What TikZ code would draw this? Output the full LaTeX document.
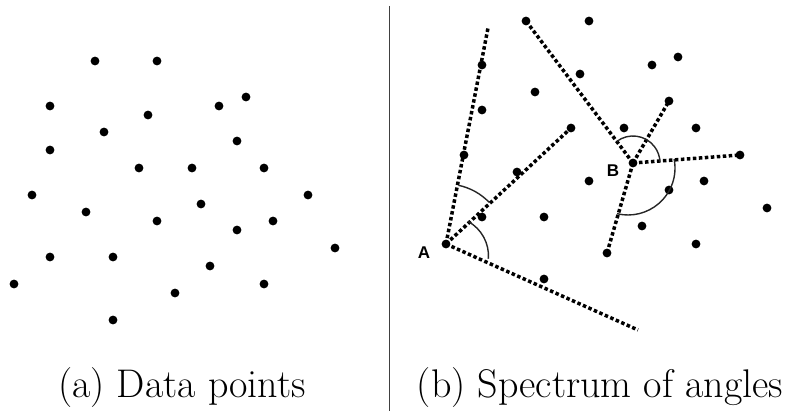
\documentclass[tikz,border=0pt]{standalone}
\usepackage{fontspec}
\usetikzlibrary{calc}
\newfontfamily\lblfont{Liberation Sans}
\tikzset{
  pt/.style={circle,fill=black,inner sep=0pt,minimum size=8.8pt},
  dotline/.style={line width=3.5pt,dash pattern=on 3.5pt off 2.5pt},
  anglearc/.style={line width=1.4pt,draw=black!85},
  lbl/.style={font=\lblfont\bfseries\fontsize{17}{19}\selectfont,inner sep=0pt},
  captext/.style={font=\fontsize{40}{44}\selectfont,inner sep=0pt,anchor=base},
}
\begin{document}
\begin{tikzpicture}[x=1pt,y=1pt]
\useasboundingbox (0,0) rectangle (789,411);
% separator
\draw[line width=1pt,black!75] (389,405) -- (389,0);
% left panel points
\foreach \x/\y [count=\i] in {95/350,157/350,50/305,219/305,246/314,148/296,104/279,50/261,237/270,139/243,192/243,264/243,32/216,308/216,86/199,201/207,157/190,273/190,237/181,335/163,50/154,113/154,210/145,14/127,264/127,175/118,113/91}
  \node[pt] (l\i) at (\x,\y) {};
% right panel points
\node[pt] (A) at (446,167) {};
\node[pt] (B) at (633,248) {};
\node[pt] (r1) at (526,390) {};
\node[pt] (r2) at (589,390) {};
\node[pt] (r3) at (482,346) {};
\node[pt] (r4) at (580,337) {};
\node[pt] (r5) at (652,346) {};
\node[pt] (r6) at (678,354) {};
\node[pt] (r7) at (535,319) {};
\node[pt] (r8) at (482,301) {};
\node[pt] (r9) at (669,310) {};
\node[pt] (r10) at (571,283) {};
\node[pt] (r11) at (624,283) {};
\node[pt] (r12) at (696,283) {};
\node[pt] (r13) at (464,256) {};
\node[pt] (r14) at (740,256) {};
\node[pt] (r15) at (517,239) {};
\node[pt] (r16) at (589,230) {};
\node[pt] (r17) at (704,230) {};
\node[pt] (r18) at (669,221) {};
\node[pt] (r19) at (482,194) {};
\node[pt] (r20) at (544,194) {};
\node[pt] (r21) at (767,203) {};
\node[pt] (r22) at (642,185) {};
\node[pt] (r23) at (696,167) {};
\node[pt] (r24) at (607,158) {};
\node[pt] (r25) at (544,132) {};
\coordinate (Atop) at (488,383);
\coordinate (Abot) at (638,81);
% dotted rays
\draw[dotline] (A.center) -- (Atop);
\draw[dotline] (A.center) -- (r10.center);
\draw[dotline] (A.center) -- (Abot);
\draw[dotline] (B.center) -- (r1.center);
\draw[dotline] (B.center) -- (r9.center);
\draw[dotline] (B.center) -- (r14.center);
\draw[dotline] (B.center) -- (r24.center);
% angle arcs
\draw[anglearc] ($(A.center)+(78:60)$) arc[start angle=78,end angle=44,radius=60];
\draw[anglearc] ($(449,155)+(61:39.5)$) arc[start angle=61,end angle=-4,radius=39.5];
\draw[anglearc] ($(B.center)+(127:27)$) arc[start angle=127,end angle=2,radius=27];
\draw[anglearc] ($(628,243)+(11:47)$) arc[start angle=11,end angle=-103.5,radius=47];
% labels
\node[lbl] (la) at (424,158) {A};
\node[lbl] (lb) at (613,240) {B};
% captions
\node[captext] (ca) at (182,13) {(a) Data points};
\node[captext] (cb) at (600,13) {(b) Spectrum of angles};
\end{tikzpicture}
\end{document}
